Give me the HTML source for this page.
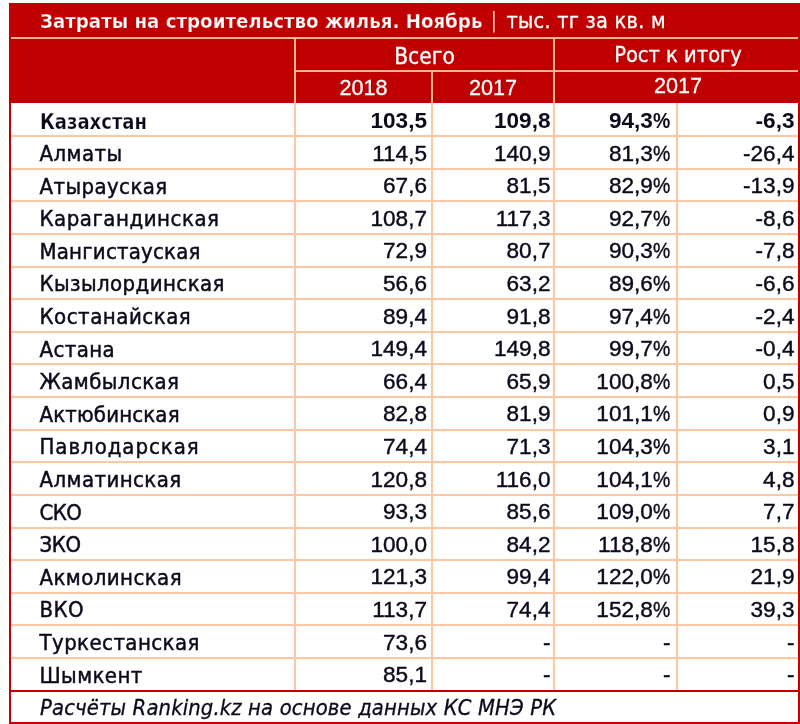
<!DOCTYPE html>
<html lang="ru"><head><meta charset="utf-8"><title>Затраты на строительство жилья</title>
<style>
html,body{margin:0;padding:0;background:#fff;}
body{width:800px;height:724px;position:relative;overflow:hidden;font-family:"Liberation Sans",sans-serif;color:#0a0a1c;}
.abs{position:absolute;}
.red{background:#c00000;}
.hl{position:absolute;height:2px;background:#fac8a4;box-shadow:0 0 .8px #fbd3b5;}
.vl{position:absolute;width:2px;background:#fac8a4;box-shadow:0 0 .8px #fbd3b5;}
.hh{background:#ffb395;box-shadow:none;}
.t{position:absolute;white-space:nowrap;line-height:30px;height:30px;}
.n{font-family:"DejaVu Sans Condensed","DejaVu Sans",sans-serif;font-size:22.0px;left:39.5px;letter-spacing:.42px;-webkit-text-stroke:.45px #0a0a1c;}
.nb{font-family:"DejaVu Sans Condensed","DejaVu Sans",sans-serif;font-weight:bold;font-size:21px;left:40px;transform:scaleX(.955);transform-origin:0 50%;-webkit-text-stroke:.25px #fff !important;}
.d{font-size:22.6px;text-align:right;-webkit-text-stroke:.4px #0a0a1c;}
.p{display:inline-block;width:.78em;text-align:left;}
.p i{display:inline-block;font-style:normal;transform:scaleX(.86);transform-origin:0 50%;}
.hd{font-family:"DejaVu Sans Condensed","DejaVu Sans",sans-serif;}
.w{color:#fff;-webkit-text-stroke:.3px #fff;}
.c{text-align:center;}
.b{font-weight:bold;-webkit-text-stroke:0;}
</style></head><body>

<div class="abs red" style="left:8.7px;top:2.5px;width:791.0999999999999px;height:100.1px"></div>
<div class="abs red" style="left:8.7px;top:2.5px;width:2px;height:721.0px"></div>
<div class="abs red" style="left:797.8px;top:2.5px;width:2px;height:721.0px"></div>
<div class="abs red" style="left:8.7px;top:721.5px;width:791.0999999999999px;height:2px"></div>
<div class="vl" style="left:294.2px;top:102.6px;height:587.9px"></div>
<div class="vl" style="left:431px;top:102.6px;height:587.9px"></div>
<div class="vl" style="left:553.4px;top:102.6px;height:587.9px"></div>
<div class="vl" style="left:676px;top:102.6px;height:587.9px"></div>
<div class="hl hh" style="left:10.7px;top:37px;width:787.0999999999999px"></div>
<div class="hl hh" style="left:295.2px;top:69.5px;width:502.59999999999997px"></div>
<div class="vl hh" style="left:294.2px;top:37px;height:65.6px"></div>
<div class="vl hh" style="left:431px;top:70px;height:32.599999999999994px"></div>
<div class="vl hh" style="left:553.4px;top:37px;height:65.6px"></div>
<div class="t w hd b" style="left:40px;top:5.5px;font-size:20.25px;-webkit-text-stroke:.25px #c00000">Затраты на строительство жилья. Ноябрь</div>
<div class="t hd" style="left:490.5px;top:4.5px;font-size:22px;color:#ffc9a8;">|</div>
<div class="t w hd" style="left:506.5px;top:5.5px;font-size:21.5px;letter-spacing:.25px">тыс. тг за кв. м</div>
<div class="t w c hd" style="left:295px;width:259px;top:40.5px;font-size:22.6px">Всего</div>
<div class="t w c hd" style="left:556px;width:244px;top:40px;font-size:21.7px">Рост к итогу</div>
<div class="t w c" style="left:295px;width:137px;top:73px;font-size:21.6px">2018</div>
<div class="t w c" style="left:432px;width:122px;top:73px;font-size:21.6px">2017</div>
<div class="t w c" style="left:556px;width:244px;top:70.5px;font-size:21.6px">2017</div>
<div class="t nb" style="top:107.49px">Казахстан</div>
<div class="t d b" style="left:300px;width:127px;top:106.49px">103,5</div>
<div class="t d b" style="left:436px;width:114.5px;top:106.49px">109,8</div>
<div class="t d b" style="left:558px;width:112.5px;top:106.49px">94,3<span class="p"><i>%</i></span></div>
<div class="t d b" style="left:680px;width:114.5px;top:106.49px">-6,3</div>
<div class="hl" style="left:10.7px;top:135.20px;width:787.0999999999999px"></div>
<div class="t n" style="top:138.90px">Алматы</div>
<div class="t d" style="left:300px;width:127px;top:138.50px">114,5</div>
<div class="t d" style="left:436px;width:114.5px;top:138.50px">140,9</div>
<div class="t d" style="left:558px;width:112.5px;top:138.50px">81,3<span class="p"><i>%</i></span></div>
<div class="t d" style="left:680px;width:114.5px;top:138.50px">-26,4</div>
<div class="hl" style="left:10.7px;top:167.81px;width:787.0999999999999px"></div>
<div class="t n" style="top:171.51px">Атырауская</div>
<div class="t d" style="left:300px;width:127px;top:171.11px">67,6</div>
<div class="t d" style="left:436px;width:114.5px;top:171.11px">81,5</div>
<div class="t d" style="left:558px;width:112.5px;top:171.11px">82,9<span class="p"><i>%</i></span></div>
<div class="t d" style="left:680px;width:114.5px;top:171.11px">-13,9</div>
<div class="hl" style="left:10.7px;top:200.42px;width:787.0999999999999px"></div>
<div class="t n" style="top:204.12px;letter-spacing:0.52px">Карагандинская</div>
<div class="t d" style="left:300px;width:127px;top:203.72px">108,7</div>
<div class="t d" style="left:436px;width:114.5px;top:203.72px">117,3</div>
<div class="t d" style="left:558px;width:112.5px;top:203.72px">92,7<span class="p"><i>%</i></span></div>
<div class="t d" style="left:680px;width:114.5px;top:203.72px">-8,6</div>
<div class="hl" style="left:10.7px;top:233.04px;width:787.0999999999999px"></div>
<div class="t n" style="top:236.74px;letter-spacing:0.2px">Мангистауская</div>
<div class="t d" style="left:300px;width:127px;top:236.34px">72,9</div>
<div class="t d" style="left:436px;width:114.5px;top:236.34px">80,7</div>
<div class="t d" style="left:558px;width:112.5px;top:236.34px">90,3<span class="p"><i>%</i></span></div>
<div class="t d" style="left:680px;width:114.5px;top:236.34px">-7,8</div>
<div class="hl" style="left:10.7px;top:265.65px;width:787.0999999999999px"></div>
<div class="t n" style="top:269.35px">Кызылординская</div>
<div class="t d" style="left:300px;width:127px;top:268.95px">56,6</div>
<div class="t d" style="left:436px;width:114.5px;top:268.95px">63,2</div>
<div class="t d" style="left:558px;width:112.5px;top:268.95px">89,6<span class="p"><i>%</i></span></div>
<div class="t d" style="left:680px;width:114.5px;top:268.95px">-6,6</div>
<div class="hl" style="left:10.7px;top:298.26px;width:787.0999999999999px"></div>
<div class="t n" style="top:301.96px;letter-spacing:0.52px">Костанайская</div>
<div class="t d" style="left:300px;width:127px;top:301.56px">89,4</div>
<div class="t d" style="left:436px;width:114.5px;top:301.56px">91,8</div>
<div class="t d" style="left:558px;width:112.5px;top:301.56px">97,4<span class="p"><i>%</i></span></div>
<div class="t d" style="left:680px;width:114.5px;top:301.56px">-2,4</div>
<div class="hl" style="left:10.7px;top:330.87px;width:787.0999999999999px"></div>
<div class="t n" style="top:334.57px">Астана</div>
<div class="t d" style="left:300px;width:127px;top:334.17px">149,4</div>
<div class="t d" style="left:436px;width:114.5px;top:334.17px">149,8</div>
<div class="t d" style="left:558px;width:112.5px;top:334.17px">99,7<span class="p"><i>%</i></span></div>
<div class="t d" style="left:680px;width:114.5px;top:334.17px">-0,4</div>
<div class="hl" style="left:10.7px;top:363.48px;width:787.0999999999999px"></div>
<div class="t n" style="top:367.18px">Жамбылская</div>
<div class="t d" style="left:300px;width:127px;top:366.78px">66,4</div>
<div class="t d" style="left:436px;width:114.5px;top:366.78px">65,9</div>
<div class="t d" style="left:558px;width:112.5px;top:366.78px">100,8<span class="p"><i>%</i></span></div>
<div class="t d" style="left:680px;width:114.5px;top:366.78px">0,5</div>
<div class="hl" style="left:10.7px;top:396.09px;width:787.0999999999999px"></div>
<div class="t n" style="top:399.79px;letter-spacing:0.15px">Актюбинская</div>
<div class="t d" style="left:300px;width:127px;top:399.39px">82,8</div>
<div class="t d" style="left:436px;width:114.5px;top:399.39px">81,9</div>
<div class="t d" style="left:558px;width:112.5px;top:399.39px">101,1<span class="p"><i>%</i></span></div>
<div class="t d" style="left:680px;width:114.5px;top:399.39px">0,9</div>
<div class="hl" style="left:10.7px;top:428.71px;width:787.0999999999999px"></div>
<div class="t n" style="top:432.41px;letter-spacing:0.95px">Павлодарская</div>
<div class="t d" style="left:300px;width:127px;top:432.01px">74,4</div>
<div class="t d" style="left:436px;width:114.5px;top:432.01px">71,3</div>
<div class="t d" style="left:558px;width:112.5px;top:432.01px">104,3<span class="p"><i>%</i></span></div>
<div class="t d" style="left:680px;width:114.5px;top:432.01px">3,1</div>
<div class="hl" style="left:10.7px;top:461.32px;width:787.0999999999999px"></div>
<div class="t n" style="top:465.02px">Алматинская</div>
<div class="t d" style="left:300px;width:127px;top:464.62px">120,8</div>
<div class="t d" style="left:436px;width:114.5px;top:464.62px">116,0</div>
<div class="t d" style="left:558px;width:112.5px;top:464.62px">104,1<span class="p"><i>%</i></span></div>
<div class="t d" style="left:680px;width:114.5px;top:464.62px">4,8</div>
<div class="hl" style="left:10.7px;top:493.93px;width:787.0999999999999px"></div>
<div class="t n" style="top:497.63px;letter-spacing:-0.6px">СКО</div>
<div class="t d" style="left:300px;width:127px;top:497.23px">93,3</div>
<div class="t d" style="left:436px;width:114.5px;top:497.23px">85,6</div>
<div class="t d" style="left:558px;width:112.5px;top:497.23px">109,0<span class="p"><i>%</i></span></div>
<div class="t d" style="left:680px;width:114.5px;top:497.23px">7,7</div>
<div class="hl" style="left:10.7px;top:526.54px;width:787.0999999999999px"></div>
<div class="t n" style="top:530.24px;letter-spacing:-0.4px">ЗКО</div>
<div class="t d" style="left:300px;width:127px;top:529.84px">100,0</div>
<div class="t d" style="left:436px;width:114.5px;top:529.84px">84,2</div>
<div class="t d" style="left:558px;width:112.5px;top:529.84px">118,8<span class="p"><i>%</i></span></div>
<div class="t d" style="left:680px;width:114.5px;top:529.84px">15,8</div>
<div class="hl" style="left:10.7px;top:559.15px;width:787.0999999999999px"></div>
<div class="t n" style="top:562.85px">Акмолинская</div>
<div class="t d" style="left:300px;width:127px;top:562.45px">121,3</div>
<div class="t d" style="left:436px;width:114.5px;top:562.45px">99,4</div>
<div class="t d" style="left:558px;width:112.5px;top:562.45px">122,0<span class="p"><i>%</i></span></div>
<div class="t d" style="left:680px;width:114.5px;top:562.45px">21,9</div>
<div class="hl" style="left:10.7px;top:591.76px;width:787.0999999999999px"></div>
<div class="t n" style="top:595.46px">ВКО</div>
<div class="t d" style="left:300px;width:127px;top:595.06px">113,7</div>
<div class="t d" style="left:436px;width:114.5px;top:595.06px">74,4</div>
<div class="t d" style="left:558px;width:112.5px;top:595.06px">152,8<span class="p"><i>%</i></span></div>
<div class="t d" style="left:680px;width:114.5px;top:595.06px">39,3</div>
<div class="hl" style="left:10.7px;top:624.38px;width:787.0999999999999px"></div>
<div class="t n" style="top:628.08px">Туркестанская</div>
<div class="t d" style="left:300px;width:127px;top:627.68px">73,6</div>
<div class="t d" style="left:436px;width:114.5px;top:627.68px">-</div>
<div class="t d" style="left:558px;width:112.5px;top:627.68px">-</div>
<div class="t d" style="left:680px;width:114.5px;top:627.68px">-</div>
<div class="hl" style="left:10.7px;top:656.99px;width:787.0999999999999px"></div>
<div class="t n" style="top:660.69px">Шымкент</div>
<div class="t d" style="left:300px;width:127px;top:660.29px">85,1</div>
<div class="t d" style="left:436px;width:114.5px;top:660.29px">-</div>
<div class="t d" style="left:558px;width:112.5px;top:660.29px">-</div>
<div class="t d" style="left:680px;width:114.5px;top:660.29px">-</div>
<div class="abs red" style="left:8.7px;top:689.5px;width:791.0999999999999px;height:2px"></div>
<div class="t hd" style="left:40px;top:693px;font-style:italic;font-size:21.8px;letter-spacing:.15px;-webkit-text-stroke:.3px #0a0a1c;">Расчёты Ranking.kz на основе данных КС МНЭ РК</div>
</body></html>
